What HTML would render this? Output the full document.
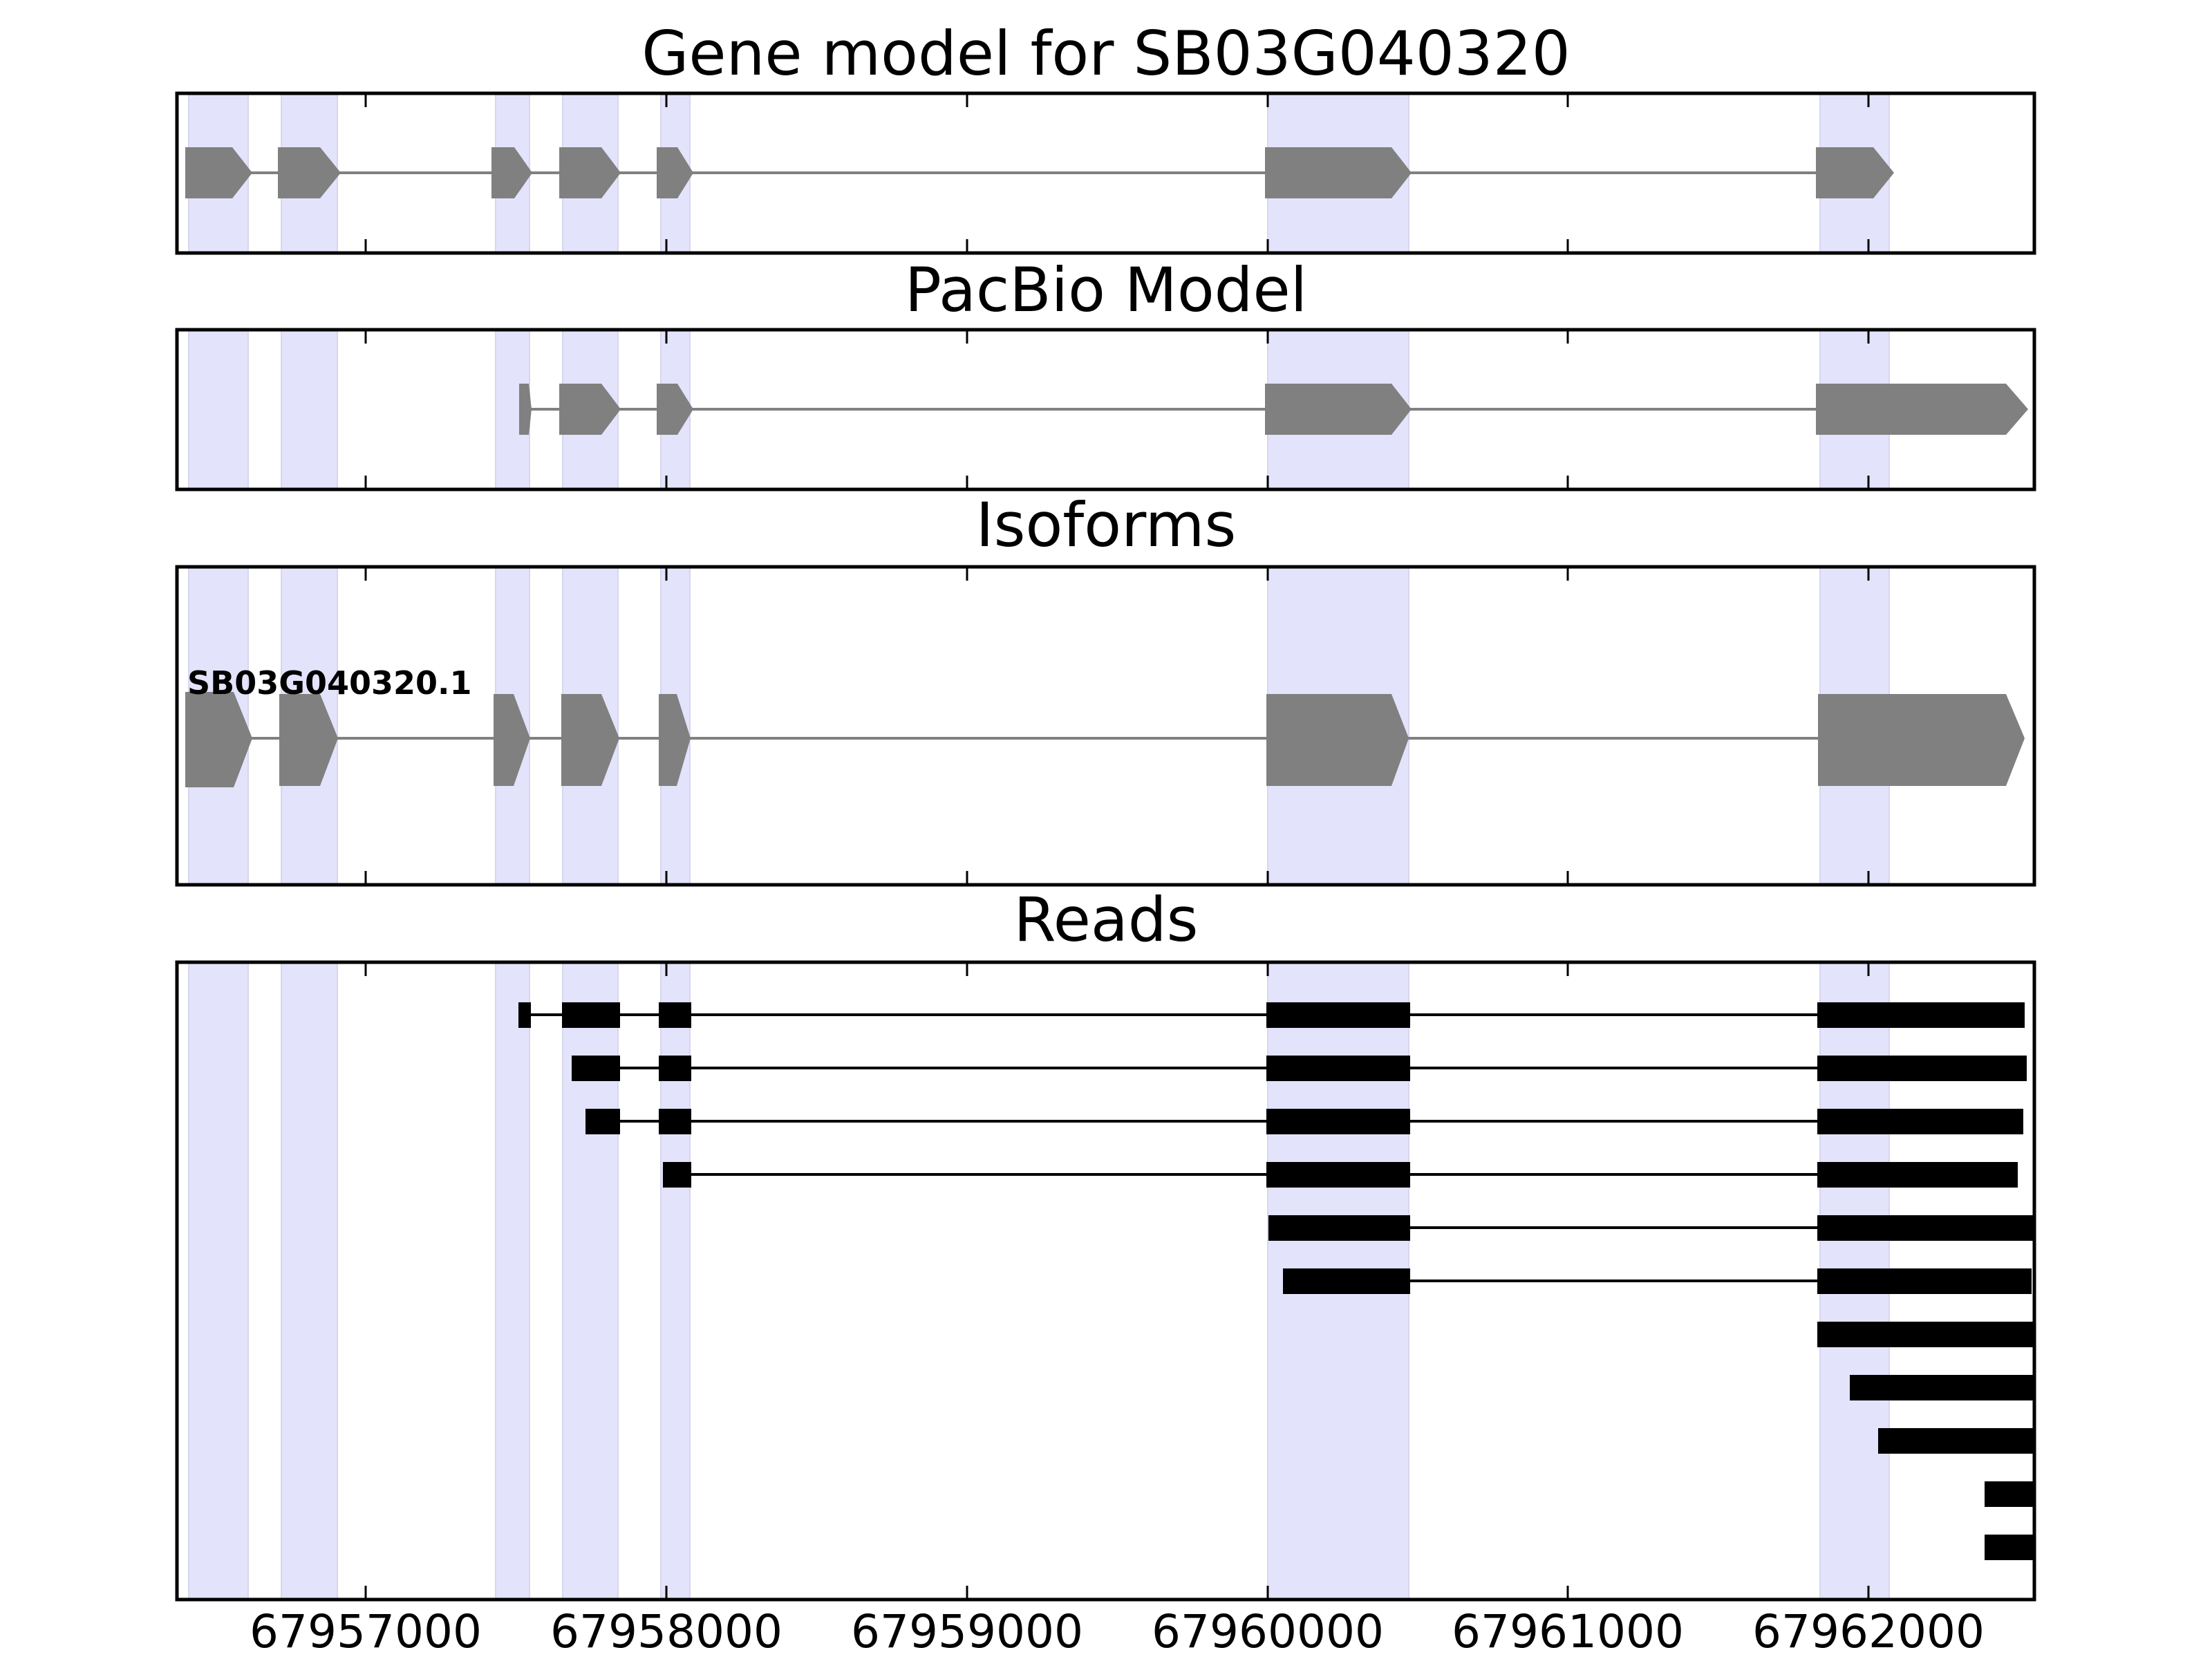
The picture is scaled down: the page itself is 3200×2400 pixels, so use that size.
<!DOCTYPE html>
<html><head><meta charset="utf-8"><style>html,body{margin:0;padding:0;background:#fff}svg{display:block}</style></head><body>
<svg xmlns="http://www.w3.org/2000/svg" width="3200" height="2400" viewBox="0 0 3200 2400">
<defs>
<clipPath id="c4"><rect x="256" y="1392" width="2687" height="922"/></clipPath>
</defs>
<rect width="3200" height="2400" fill="#fff"/>
<g font-family="'DejaVu Sans','Liberation Sans',sans-serif" fill="#000">
<text x="1600" y="108" font-size="88" text-anchor="middle">Gene model for SB03G040320</text>
<text x="1600" y="450" font-size="88" text-anchor="middle">PacBio Model</text>
<text x="1600" y="790" font-size="88" text-anchor="middle">Isoforms</text>
<text x="1600" y="1361" font-size="88" text-anchor="middle">Reads</text>
<g font-size="66" text-anchor="middle">
<text x="529" y="2383">67957000</text><text x="964" y="2383">67958000</text><text x="1399" y="2383">67959000</text><text x="1834" y="2383">67960000</text><text x="2268" y="2383">67961000</text><text x="2703" y="2383">67962000</text>
</g>
</g>
<g fill="#e3e3fc" stroke="#d6d6ee" stroke-width="2">
<g>
<rect x="273" y="135" width="86" height="231"/><rect x="407" y="135" width="81" height="231"/><rect x="717" y="135" width="49" height="231"/><rect x="814" y="135" width="80" height="231"/><rect x="956" y="135" width="42" height="231"/><rect x="1834" y="135" width="204" height="231"/><rect x="2633" y="135" width="100" height="231"/>
</g>
<g>
<rect x="273" y="477" width="86" height="231"/><rect x="407" y="477" width="81" height="231"/><rect x="717" y="477" width="49" height="231"/><rect x="814" y="477" width="80" height="231"/><rect x="956" y="477" width="42" height="231"/><rect x="1834" y="477" width="204" height="231"/><rect x="2633" y="477" width="100" height="231"/>
</g>
<g>
<rect x="273" y="820" width="86" height="460"/><rect x="407" y="820" width="81" height="460"/><rect x="717" y="820" width="49" height="460"/><rect x="814" y="820" width="80" height="460"/><rect x="956" y="820" width="42" height="460"/><rect x="1834" y="820" width="204" height="460"/><rect x="2633" y="820" width="100" height="460"/>
</g>
<g>
<rect x="273" y="1392" width="86" height="922"/><rect x="407" y="1392" width="81" height="922"/><rect x="717" y="1392" width="49" height="922"/><rect x="814" y="1392" width="80" height="922"/><rect x="956" y="1392" width="42" height="922"/><rect x="1834" y="1392" width="204" height="922"/><rect x="2633" y="1392" width="100" height="922"/>
</g>
</g>
<g fill="#808080">
<line x1="336" y1="250" x2="2700" y2="250" stroke="#808080" stroke-width="4"/>
<polygon points="268,213 336,213 365,250 336,287 268,287"/>
<polygon points="402,213 463,213 493,250 463,287 402,287"/>
<polygon points="711,213 744,213 770,250 744,287 711,287"/>
<polygon points="809,213 870,213 898,250 870,287 809,287"/>
<polygon points="950,213 980,213 1003,250 980,287 950,287"/>
<polygon points="1830,213 2013,213 2042,250 2013,287 1830,287"/>
<polygon points="2627,213 2710,213 2740,250 2710,287 2627,287"/>
<line x1="765" y1="592" x2="2640" y2="592" stroke="#808080" stroke-width="4"/>
<polygon points="751,555 765,555 769,592 765,629 751,629"/>
<polygon points="809,555 870,555 898,592 870,629 809,629"/>
<polygon points="950,555 980,555 1003,592 980,629 950,629"/>
<polygon points="1830,555 2013,555 2042,592 2013,629 1830,629"/>
<polygon points="2627,555 2902,555 2934,592 2902,629 2627,629"/>
<line x1="300" y1="1068" x2="2640" y2="1068" stroke="#808080" stroke-width="4"/>
<polygon points="268,1001 338,1001 365,1068 338,1139 268,1139"/>
<polygon points="404,1004 463,1004 489,1068 463,1137 404,1137"/>
<polygon points="714,1004 743,1004 767,1068 743,1137 714,1137"/>
<polygon points="812,1004 870,1004 896,1068 870,1137 812,1137"/>
<polygon points="953,1004 979,1004 999,1068 979,1137 953,1137"/>
<polygon points="1832,1004 2013,1004 2038,1068 2013,1137 1832,1137"/>
<polygon points="2630,1004 2902,1004 2929,1068 2902,1137 2630,1137"/>
</g>
<text x="271" y="1004" font-family="'DejaVu Sans','Liberation Sans',sans-serif" font-size="46" font-weight="bold">SB03G040320.1</text>
<g clip-path="url(#c4)" fill="#000" stroke="#000" stroke-width="4">
<line x1="760" y1="1468" x2="2629" y2="1468"/>
<line x1="830" y1="1545" x2="2629" y2="1545"/>
<line x1="850" y1="1622" x2="2629" y2="1622"/>
<line x1="960" y1="1699" x2="2629" y2="1699"/>
<line x1="1840" y1="1776" x2="2629" y2="1776"/>
<line x1="1860" y1="1853" x2="2629" y2="1853"/>
<g stroke="none">
<rect x="750" y="1450" width="18" height="37"/><rect x="813" y="1450" width="84" height="37"/><rect x="953" y="1450" width="47" height="37"/><rect x="1832" y="1450" width="208" height="37"/><rect x="2629" y="1450" width="300" height="37"/>
<rect x="827" y="1527" width="70" height="37"/><rect x="953" y="1527" width="47" height="37"/><rect x="1832" y="1527" width="208" height="37"/><rect x="2629" y="1527" width="303" height="37"/>
<rect x="847" y="1604" width="50" height="37"/><rect x="953" y="1604" width="47" height="37"/><rect x="1832" y="1604" width="208" height="37"/><rect x="2629" y="1604" width="298" height="37"/>
<rect x="959" y="1681" width="41" height="37"/><rect x="1832" y="1681" width="208" height="37"/><rect x="2629" y="1681" width="290" height="37"/>
<rect x="1835" y="1758" width="205" height="37"/><rect x="2629" y="1758" width="320" height="37"/>
<rect x="1856" y="1835" width="184" height="37"/><rect x="2629" y="1835" width="310" height="37"/>
<rect x="2629" y="1912" width="320" height="37"/>
<rect x="2676" y="1989" width="280" height="37"/>
<rect x="2717" y="2066" width="240" height="37"/>
<rect x="2871" y="2143" width="80" height="37"/>
<rect x="2871" y="2220" width="80" height="37"/>
</g>
</g>
<g stroke="#000" stroke-width="3">
<path d="M529 135v20M964 135v20M1399 135v20M1834 135v20M2268 135v20M2703 135v20 M529 366v-20M964 366v-20M1399 366v-20M1834 366v-20M2268 366v-20M2703 366v-20"/>
<path d="M529 477v20M964 477v20M1399 477v20M1834 477v20M2268 477v20M2703 477v20 M529 708v-20M964 708v-20M1399 708v-20M1834 708v-20M2268 708v-20M2703 708v-20"/>
<path d="M529 820v20M964 820v20M1399 820v20M1834 820v20M2268 820v20M2703 820v20 M529 1280v-20M964 1280v-20M1399 1280v-20M1834 1280v-20M2268 1280v-20M2703 1280v-20"/>
<path d="M529 1392v20M964 1392v20M1399 1392v20M1834 1392v20M2268 1392v20M2703 1392v20 M529 2314v-20M964 2314v-20M1399 2314v-20M1834 2314v-20M2268 2314v-20M2703 2314v-20"/>
</g>
<g fill="none" stroke="#000" stroke-width="5">
<rect x="256" y="135" width="2687" height="231"/>
<rect x="256" y="477" width="2687" height="231"/>
<rect x="256" y="820" width="2687" height="460"/>
<rect x="256" y="1392" width="2687" height="922"/>
</g>
</svg>
</body></html>
